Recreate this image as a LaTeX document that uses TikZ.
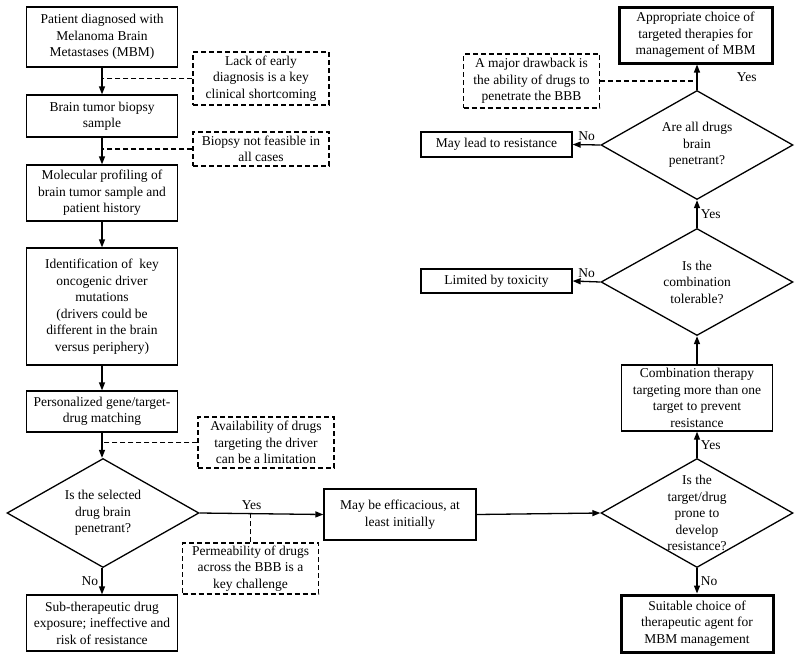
\documentclass[tikz,border=0pt]{standalone}
\usepackage{fontspec}
\setmainfont{Liberation Serif}
\usetikzlibrary{positioning}
\usetikzlibrary{arrows.meta}
\usetikzlibrary{shapes.geometric}

\begin{document}
\begin{tikzpicture}[x=1pt,y=-1pt,
    font=\fontsize{13.5}{16.5}\selectfont,
    box/.style={draw,line width=1.3pt,align=center,minimum width=151pt,inner sep=2pt},
    finalbox/.style={box,line width=3pt},
    note/.style={draw,dash pattern=on 5pt off 3pt,line width=1.3pt,align=center,minimum width=136pt,inner sep=2pt},
    decision/.style={draw,diamond,line width=1.3pt,minimum width=192pt,minimum height=109pt,inner sep=0pt},
    arr/.style={line width=1.3pt,-{Triangle[length=8pt,width=6pt]}},
    notelink/.style={line width=1.3pt,dash pattern=on 5pt off 3pt}]
  \useasboundingbox (0,0) rectangle (800,659);

  % left column
  \node[box,minimum height=60pt] (patient) at (102,37) {Patient diagnosed with\\Melanoma Brain\\Metastases (MBM)};
  \node[box,minimum height=42pt] (biopsy) at (102,116) {Brain tumor biopsy\\sample};
  \node[box,minimum height=56pt] (profiling) at (102,193) {Molecular profiling of\\brain tumor sample and\\patient history};
  \node[box,minimum height=117pt] (drivers) at (102,306.5) {Identification of~ key\\oncogenic driver\\mutations\\(drivers could be\\different in the brain\\versus periphery)};
  \node[box,minimum height=41pt] (matching) at (102,411.5) {Personalized gene/target-\\drug matching};
  \node[decision,label={[align=center]center:{Is the selected\\drug brain\\penetrant?}}] (penetrant) at (103,513) {};
  \node[box,minimum height=56pt] (subther) at (102,623) {Sub-therapeutic drug\\exposure; ineffective and\\risk of resistance};

  % notes
  \node[note,minimum height=53pt] (earlydx) at (261,78.5) {Lack of early\\diagnosis is a key\\clinical shortcoming};
  \node[note,minimum height=34pt] (feasible) at (261,149) {Biopsy not feasible in\\all cases};
  \node[note,minimum height=51pt] (avail) at (266,442.5) {Availability of drugs\\targeting the driver\\can be a limitation};
  \node[note,minimum height=51pt] (perm) at (250.5,568.5) {Permeability of drugs\\across the BBB is a\\key challenge};
  \node[note,minimum height=54pt] (drawback) at (531.5,81) {A major drawback is\\the ability of drugs to\\penetrate the BBB};

  % right part
  \node[box,minimum height=51pt,minimum width=152pt] (efficac) at (400,514.5) {May be efficacious, at\\least initially};
  \node[decision,label={[align=center]center:{Is the\\target/drug\\prone to\\develop\\resistance?}}] (prone) at (697,513) {};
  \node[finalbox,minimum height=57pt,minimum width=152pt] (suitable) at (697,623.5) {Suitable choice of\\therapeutic agent for\\MBM management};
  \node[box,minimum height=66pt] (combo) at (697,398) {Combination therapy\\targeting more than one\\target to prevent\\resistance};
  \node[decision,minimum height=107pt,label={[align=center]center:{Is the\\combination\\tolerable?}}] (tolerable) at (697,282) {};
  \node[box,minimum height=24pt] (toxicity) at (496.5,281) {Limited by toxicity};
  \node[decision,label={[align=center]center:{Are all drugs\\brain\\penetrant?}}] (allpen) at (697,145) {};
  \node[box,minimum height=25pt] (leadres) at (496.5,144.5) {May lead to resistance};
  \node[finalbox,minimum height=56pt,minimum width=153pt] (choice) at (695.5,35) {Appropriate choice of\\targeted therapies for\\management of MBM};

  % arrows
  \draw[arr] (patient) -- (biopsy);
  \draw[arr] (biopsy) -- (profiling);
  \draw[arr] (profiling) -- (drivers);
  \draw[arr] (drivers) -- (matching);
  \draw[arr] (matching.south) -- (matching.south |- penetrant.north);
  \draw[arr] (penetrant.south -| subther.north) -- node[left]{No} (subther.north);
  \draw[arr] (penetrant.east) -- node[above,pos=0.42]{Yes} (efficac.west);
  \draw[arr] (efficac.east) -- (prone.west);
  \draw[arr] (prone.south) -- node[right]{No} (suitable.north);
  \draw[arr] (prone.north) -- node[right]{Yes} (combo.south);
  \draw[arr] (combo.north) -- (tolerable.south);
  \draw[arr] (tolerable.north) -- node[right]{Yes} (allpen.south);
  \draw[arr] (tolerable.west) -- node[above]{No} (toxicity.east);
  \draw[arr] (allpen.west) -- node[above]{No} (leadres.east);
  \draw[arr] (allpen.north) -- node[right,xshift=36pt]{Yes} (allpen.north |- choice.south);

  % dashed links
  \draw[notelink] (earlydx.west) -- (earlydx.west -| patient.south);
  \draw[notelink] (feasible.west) -- (feasible.west -| biopsy.south);
  \draw[notelink] (avail.west) -- (avail.west -| matching.south);
  \draw[notelink] (perm.north) -- (perm.north |- penetrant.east);
  \draw[notelink] (drawback.east) -- (drawback.east -| allpen.north);
\end{tikzpicture}
\end{document}
